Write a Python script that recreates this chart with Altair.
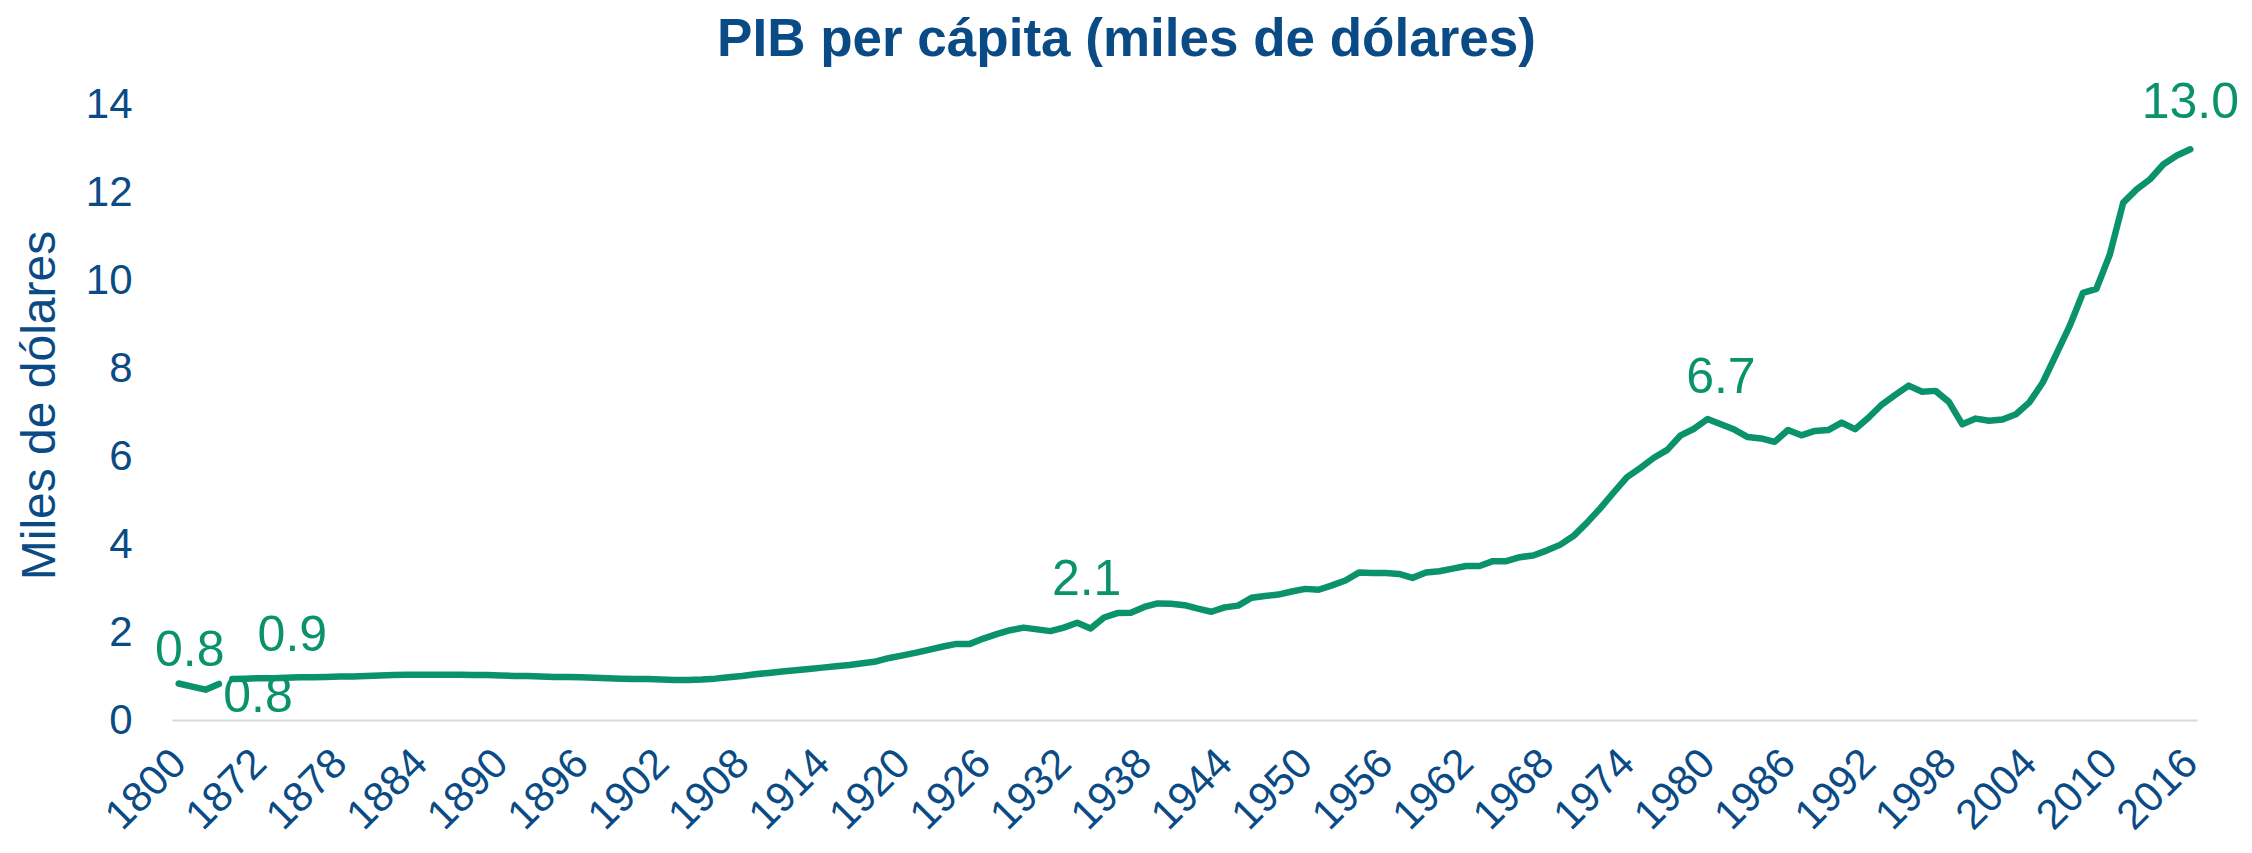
import altair as alt
import pandas as pd

# ---- data -------------------------------------------------------------
early_cats = ["1800", "1820", "1840", "1860"]
early_vals = [0.83, 0.76, 0.69, 0.82]

years = [str(y) for y in range(1870, 2017)]
vals = [
    0.93, 0.94, 0.95, 0.95, 0.96, 0.97, 0.97, 0.98, 0.99, 0.99,   # 1870s
    1.00, 1.01, 1.02, 1.03, 1.03, 1.03, 1.03, 1.03, 1.02, 1.02,   # 1880s
    1.01, 1.00, 1.00, 0.99, 0.98, 0.98, 0.97, 0.96, 0.95, 0.94,   # 1890s
    0.93, 0.93, 0.92, 0.91, 0.91, 0.92, 0.94, 0.97, 1.00, 1.04,   # 1900s
    1.07, 1.10, 1.13, 1.16, 1.19, 1.22, 1.25, 1.29, 1.33, 1.41,   # 1910s
    1.47, 1.53, 1.60, 1.67, 1.73, 1.73, 1.85, 1.95, 2.04, 2.10,   # 1920s
    2.06, 2.02, 2.10, 2.21, 2.08, 2.33, 2.43, 2.44, 2.57, 2.65,   # 1930s
    2.64, 2.61, 2.53, 2.46, 2.56, 2.60, 2.78, 2.82, 2.85, 2.92,   # 1940s
    2.98, 2.96, 3.06, 3.17, 3.35, 3.34, 3.34, 3.32, 3.23, 3.35,   # 1950s
    3.38, 3.44, 3.50, 3.50, 3.61, 3.61, 3.70, 3.74, 3.85, 3.98,   # 1960s
    4.18, 4.48, 4.81, 5.17, 5.52, 5.73, 5.96, 6.14, 6.47, 6.62,   # 1970s
    6.84, 6.72, 6.60, 6.43, 6.40, 6.32, 6.59, 6.47, 6.57, 6.59,   # 1980s
    6.76, 6.61, 6.87, 7.17, 7.39, 7.60, 7.46, 7.48, 7.23, 6.72,   # 1990s
    6.85, 6.80, 6.83, 6.95, 7.22, 7.67, 8.31, 8.95, 9.71, 9.80,   # 2000s
    10.58, 11.76, 12.06, 12.29, 12.63, 12.83, 12.97,              # 2010-2016
]

x_tick_labels = ["1800"] + [str(y) for y in range(1872, 2017, 6)]
y_ticks = [0, 2, 4, 6, 8, 10, 12, 14]

title_text = "PIB per cápita (miles de dólares)"
y_title = "Miles de dólares"

# ---- table ---------------------------------------------------------------
cats = early_cats + years
df = pd.DataFrame({
    "cat": cats,
    "val": early_vals + vals,
    "seg": ["a"] * len(early_cats) + ["b"] * len(years),
})

BLUE = "#0B4B85"
GREEN = "#0A936A"
FONT = "Liberation Sans"

x_enc = alt.X(
    "cat:O",
    sort=cats,
    scale=alt.Scale(type="point", domain=cats, padding=0.5),
    axis=alt.Axis(
        values=x_tick_labels,
        labelAngle=-45,
        labelAlign="right",
        labelBaseline="middle",
        labelPadding=36,
        labelOverlap=False,
        labelFontSize=42,
        labelColor=BLUE,
        labelFont=FONT,
        ticks=False,
        tickSize=0,
        grid=False,
        domainColor="#D9D9D9",
        domainWidth=2,
        title=None,
    ),
)
y_enc = alt.Y(
    "val:Q",
    scale=alt.Scale(domain=[0, 14], nice=False, zero=True),
    axis=alt.Axis(
        values=y_ticks,
        labelPadding=40,
        labelFontSize=42,
        labelColor=BLUE,
        labelFont=FONT,
        ticks=False,
        tickSize=0,
        domain=False,
        grid=False,
        title=y_title,
        titleFont=FONT,
        titleFontSize=48,
        titleFontWeight="normal",
        titleColor=BLUE,
        titleX=-132,
        titleY=301,
        titleBaseline="middle",
        titleAlign="center",
    ),
)

base = alt.Chart(df).encode(x=x_enc, y=y_enc)

line = base.mark_line(
    color=GREEN, strokeWidth=6.5, strokeCap="round", strokeJoin="round"
).encode(detail="seg:N")

# data labels: (category, dx, dy)
label_spots = [
    ("1800", 11, -32),
    ("1860", 39, 13),
    ("1870", 60, -43),
    ("1934", -4, -48),
    ("1981", 0, -46),
    ("2016", 0, -46),
]
layers = [line]
for cat, dx, dy in label_spots:
    layers.append(
        base.transform_filter(alt.datum.cat == cat).mark_text(
            color=GREEN, fontSize=50, font=FONT, dx=dx, dy=dy,
            align="center", baseline="middle",
        ).encode(text=alt.Text("val:Q", format=".1f"))
    )

chart = alt.layer(*layers).properties(
    width=2025,
    height=616,
    autosize=alt.AutoSizeParams(type="none"),
    padding={"left": 164, "top": 96, "right": 47, "bottom": 125},
    title=alt.TitleParams(
        title_text,
        font=FONT,
        fontSize=53,
        fontWeight="bold",
        color=BLUE,
        anchor="middle",
        frame="group",
        dx=-58,
        offset=11,
    ),
).configure_view(stroke=None)

chart.save("out.html", embed_options={"renderer": "svg", "actions": False})
